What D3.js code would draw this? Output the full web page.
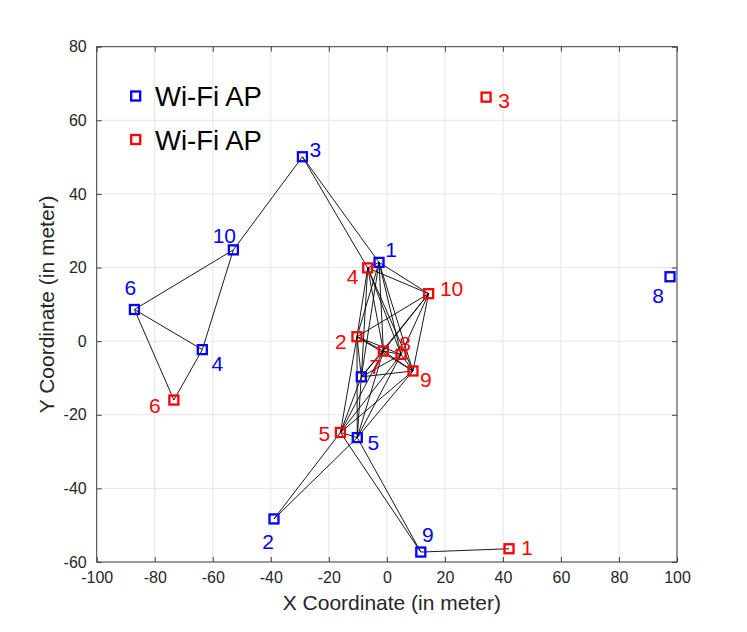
<!DOCTYPE html>
<html>
<head>
<meta charset="utf-8">
<script src="https://cdn.jsdelivr.net/npm/d3@7"></script>
<style>
  html, body { margin: 0; padding: 0; background: #fff; }
  svg { display: block; }
  text { font-family: "Liberation Sans", Arial, Helvetica, sans-serif; }
</style>
</head>
<body>
<svg id="chart" width="747" height="632"></svg>
<script>
// ---- Data ----
const blueIds = ["1","2","3","4","5","6","7","8","9","10"];
const blueX = [-2.7, -38.9, -29.1, -63.6, -10.2, -87.0, -8.8, 97.6, 11.7, -52.9];
const blueY = [21.4, -48.3, 50.1, -2.3, -26.2, 8.6, -9.7, 17.5, -57.3, 24.8];
const blueShowLabel = [true, true, true, true, true, true, false, true, true, true];

const redIds = ["1","2","3","4","5","6","7","8","9","10"];
const redX = [42.1, -10.3, 34.2, -6.6, -16.0, -73.4, -1.2, 4.9, 9.0, 14.4];
const redY = [-56.4, 1.2, 66.3, 19.9, -24.8, -16.0, -2.7, -3.6, -8.1, 12.9];

// links between APs (B = blue, R = red)
const links = [
  ["B3","B1"],["B3","R4"],["B3","B10"],["B10","B6"],["B10","B4"],["B6","B4"],
  ["B6","R6"],["R6","B4"],["B2","R5"],["B2","B5"],["R5","B9"],["B5","B9"],["B9","R1"],
  // dense central group
  ["B1","R4"],["B1","R10"],["B1","R2"],["B1","R7"],["B1","R8"],["B1","R9"],["B1","B7"],
  ["R4","R10"],["R4","R2"],["R4","R7"],["R4","R8"],["R4","R9"],["R4","B7"],
  ["R10","R2"],["R10","R7"],["R10","R8"],["R10","R9"],["R10","B7"],
  ["R2","R7"],["R2","R8"],["R2","R9"],["R2","B7"],["R2","R5"],["R2","B5"],
  ["R7","R8"],["R7","R9"],["R7","B7"],["R7","R5"],["R7","B5"],
  ["R8","R9"],["R8","B7"],["R8","R5"],["R8","B5"],
  ["R9","B7"],["R9","R5"],["R9","B5"],
  ["B7","R5"],["B7","B5"],
  ["R5","B5"]
];

const xTicks = [-100,-80,-60,-40,-20,0,20,40,60,80,100];
const yTicks = [-60,-40,-20,0,20,40,60,80];
const legendLabels = ["Wi-Fi AP","Wi-Fi AP"];
const xLabel = "X Coordinate (in meter)";
const yLabel = "Y Coordinate (in meter)";

// label offsets (px) relative to marker, for readability
const blueLabelDx = [12, -6, 13, 15, 16, -4, 0, -12, 7, -9];
const blueLabelDy = [-13, 23, -7, 14, 5, -22, 0, 19, -18, -14];
const redLabelDx = [18, -16, 18, -15, -16, -19, -8, 4, 13, 23];
const redLabelDy = [-1, 5, 3, 9, 1, 5, 15, -11, 9, -5];

// ---- Layout ----
const BLUE = "#0000ff", RED = "#ff0000";
const svg = d3.select("#chart");
const L = 96.7, R = 677, T = 46.7, B = 562;

const x = d3.scaleLinear().domain([-100, 100]).range([L, R]);
const y = d3.scaleLinear().domain([-60, 80]).range([B, T]);

// grid
const grid = svg.append("g");
grid.selectAll("line.gx").data(xTicks).join("line")
  .attr("x1", d => x(d)).attr("x2", d => x(d)).attr("y1", T).attr("y2", B)
  .attr("stroke", "#e5e5e5").attr("stroke-width", 1);
grid.selectAll("line.gy").data(yTicks).join("line")
  .attr("y1", d => y(d)).attr("y2", d => y(d)).attr("x1", L).attr("x2", R)
  .attr("stroke", "#e5e5e5").attr("stroke-width", 1);

// axes (ticks inward)
const axisColor = "#404040";
const fmt = d => String(d);
function styleAxis(g) {
  g.select(".domain").remove();
  g.selectAll(".tick line").attr("stroke", axisColor);
  g.selectAll(".tick text").attr("fill", "#262626").style("font-size", "16px")
    .style("font-family", '"Liberation Sans", Arial, sans-serif');
}
svg.append("g").attr("transform", `translate(0,${B})`)
  .call(d3.axisBottom(x).tickValues(xTicks).tickSize(-5).tickPadding(10).tickFormat(fmt))
  .call(styleAxis);
svg.append("g").attr("transform", `translate(0,${T})`)
  .call(d3.axisTop(x).tickValues(xTicks).tickSize(-5).tickFormat(""))
  .call(styleAxis);
svg.append("g").attr("transform", `translate(${L},0)`)
  .call(d3.axisLeft(y).tickValues(yTicks).tickSize(-5).tickPadding(10).tickFormat(fmt))
  .call(styleAxis);
svg.append("g").attr("transform", `translate(${R},0)`)
  .call(d3.axisRight(y).tickValues(yTicks).tickSize(-5).tickFormat(""))
  .call(styleAxis);

svg.append("rect").attr("x", L).attr("y", T).attr("width", R - L).attr("height", B - T)
  .attr("fill", "none").attr("stroke", axisColor).attr("stroke-width", 1);

// nodes
const nodes = {};
blueIds.forEach((id, i) => nodes["B" + id] = {x: blueX[i], y: blueY[i]});
redIds.forEach((id, i) => nodes["R" + id] = {x: redX[i], y: redY[i]});

// links
svg.append("g").selectAll("line").data(links).join("line")
  .attr("x1", d => x(nodes[d[0]].x)).attr("y1", d => y(nodes[d[0]].y))
  .attr("x2", d => x(nodes[d[1]].x)).attr("y2", d => y(nodes[d[1]].y))
  .attr("stroke", "#000").attr("stroke-width", 0.9);

// markers
const S = 9;
function drawMarkers(xs, ys, color) {
  svg.append("g").selectAll("rect").data(xs.map((v, i) => [v, ys[i]])).join("rect")
    .attr("x", d => x(d[0]) - S / 2).attr("y", d => y(d[1]) - S / 2)
    .attr("width", S).attr("height", S)
    .attr("fill", "none").attr("stroke", color).attr("stroke-width", 2.3);
}
drawMarkers(blueX, blueY, BLUE);
drawMarkers(redX, redY, RED);

// point labels
function drawLabels(ids, xs, ys, dxs, dys, color, show) {
  svg.append("g").selectAll("text").data(ids.map((id, i) => ({id, i})).filter(d => !show || show[d.i])).join("text")
    .attr("x", d => x(xs[d.i]) + dxs[d.i]).attr("y", d => y(ys[d.i]) + dys[d.i])
    .attr("text-anchor", "middle").attr("dominant-baseline", "central")
    .attr("fill", color).style("font-size", "21px").text(d => d.id);
}
drawLabels(blueIds, blueX, blueY, blueLabelDx, blueLabelDy, BLUE, blueShowLabel);
drawLabels(redIds, redX, redY, redLabelDx, redLabelDy, RED, null);

// legend
const legColors = [BLUE, RED];
const leg = svg.append("g");
legendLabels.forEach((t, i) => {
  const cy = 96 + i * 43.5;
  leg.append("rect").attr("x", 135.7 - S / 2).attr("y", cy - S / 2).attr("width", S).attr("height", S)
    .attr("fill", "none").attr("stroke", legColors[i]).attr("stroke-width", 2.3);
  leg.append("text").attr("x", 155).attr("y", cy + 10).attr("fill", "#000")
    .style("font-size", "27.5px").text(t);
});

// axis labels
svg.append("text").attr("x", (L + R) / 2 + 5).attr("y", 610).attr("text-anchor", "middle")
  .attr("fill", "#262626").style("font-size", "21px").text(xLabel);
svg.append("text").attr("transform", `translate(54,${(T + B) / 2}) rotate(-90)`)
  .attr("text-anchor", "middle").attr("fill", "#262626").style("font-size", "21px").text(yLabel);
</script>
</body>
</html>
